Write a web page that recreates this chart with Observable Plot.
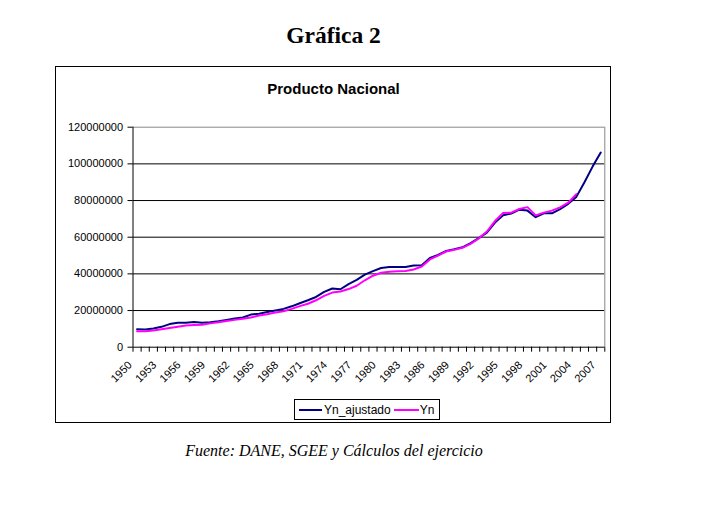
<!DOCTYPE html>
<html>
<head>
<meta charset="utf-8">
<script src="https://cdn.jsdelivr.net/npm/d3@7"></script>
<script src="https://cdn.jsdelivr.net/npm/@observablehq/plot@0.6"></script>
<style>
  body { margin: 0; background: #fff; }
  #page { position: relative; width: 702px; height: 516px; background: #fff; overflow: hidden; }
  #title { position: absolute; left: 0; width: 667px; top: 22px; text-align: center;
           font: bold 23.5px "Liberation Serif", "Times New Roman", serif; color: #000; }
  #box { position: absolute; left: 55px; top: 66px; width: 554px; height: 355px; border: 1px solid #000; background: #fff; }
  #ptitle { position: absolute; left: 0; width: 555px; top: 13px; text-align: center;
            font: bold 15px "Liberation Sans", Arial, sans-serif; color: #000; }
  #chart { position: absolute; left: 0; top: 50px; }
  #legend { position: absolute; left: 238px; top: 332px; width: 144px; height: 19px; border: 1px solid #000;
            display: flex; align-items: center; font: 12px "Liberation Sans", Arial, sans-serif; color: #000; }
  .sw { display: inline-block; height: 2px; }
  #source { position: absolute; left: 0; width: 668px; top: 442px; text-align: center;
            font: italic 16px "Liberation Serif", "Times New Roman", serif; color: #000; }
</style>
</head>
<body>
<div id="page">
  <div id="title">Gráfica 2</div>
  <div id="box">
    <div id="ptitle">Producto Nacional</div>
    <div id="chart"></div>
    <div id="legend"></div>
  </div>
  <div id="source">Fuente: DANE, SGEE y Cálculos del ejercicio</div>
</div>
<script>
const years = [1950,1951,1952,1953,1954,1955,1956,1957,1958,1959,
               1960,1961,1962,1963,1964,1965,1966,1967,1968,1969,
               1970,1971,1972,1973,1974,1975,1976,1977,1978,1979,
               1980,1981,1982,1983,1984,1985,1986,1987,1988,1989,
               1990,1991,1992,1993,1994,1995,1996,1997,1998,1999,
               2000,2001,2002,2003,2004,2005,2006,2007];

const ynAjustado = [9.8e6,9.7e6,10.2e6,11.1e6,12.6e6,13.3e6,13.3e6,13.8e6,13.4e6,13.6e6,
                    14.1e6,14.8e6,15.6e6,16.2e6,17.8e6,18.3e6,19.2e6,20.0e6,20.9e6,22.3e6,
                    24.0e6,25.6e6,27.4e6,30.2e6,32.0e6,31.6e6,34.4e6,36.7e6,39.6e6,41.5e6,
                    43.2e6,43.7e6,43.7e6,43.8e6,44.6e6,44.7e6,48.7e6,50.3e6,52.5e6,53.4e6,
                    54.5e6,56.8e6,59.5e6,62.5e6,68.0e6,72.0e6,72.9e6,75.0e6,74.5e6,70.9e6,
                    73.0e6,73.0e6,75.3e6,78.2e6,82.0e6,90.0e6,98.5e6,106.2e6];

const yn = [8.7e6,8.7e6,9.1e6,9.8e6,10.5e6,11.2e6,11.8e6,12.1e6,12.2e6,13.0e6,
            13.6e6,14.3e6,14.9e6,15.5e6,16.2e6,17.3e6,18.0e6,18.9e6,19.6e6,20.9e6,
            22.4e6,23.7e6,25.6e6,28.0e6,29.8e6,30.4e6,31.7e6,33.5e6,36.5e6,39.0e6,
            40.6e6,41.2e6,41.4e6,41.6e6,42.4e6,44.0e6,47.9e6,50.0e6,52.2e6,53.1e6,
            54.2e6,56.4e6,59.3e6,63.1e6,68.8e6,73.2e6,73.4e6,75.4e6,76.4e6,71.9e6,
            73.4e6,74.5e6,76.3e6,78.8e6,83.5e6];

const labelYears = [1950,1953,1956,1959,1962,1965,1968,1971,1974,1977,
                    1980,1983,1986,1989,1992,1995,1998,2001,2004,2007];
const yTicks = [0,20000000,40000000,60000000,80000000,100000000,120000000];
const gridTicks = [20000000,40000000,60000000,80000000,100000000];

const seriesNames = ["Yn_ajustado", "Yn"];
const seriesColors = ["#000080", "#FF00FF"];

const adjTable = years.map((y, i) => ({year: y, v: ynAjustado[i]}));
const ynTable = yn.map((v, i) => ({year: years[i], v}));

const xMin = years[0] - 0.5;
const xMax = years[years.length - 1] + 0.5;
const boundaries = years.map(y => y - 0.5).concat([xMax]);

const font = '"Liberation Sans", Arial, sans-serif';

const chart = Plot.plot({
  width: 554,
  height: 290,
  marginLeft: 76.5,
  marginRight: 5.7,
  marginTop: 9.7,
  marginBottom: 60.3,
  style: {fontFamily: font, fontSize: "11px", color: "#000", background: "#fff", overflow: "visible"},
  x: {type: "linear", domain: [xMin, xMax]},
  y: {domain: [0, 120000000]},
  marks: [
    Plot.gridY({ticks: gridTicks, stroke: "#000", strokeOpacity: 1, strokeWidth: 1}),
    Plot.ruleY([120000000], {stroke: "#888", strokeWidth: 1}),
    Plot.ruleX([xMax], {stroke: "#888", strokeWidth: 1}),
    Plot.ruleX([xMin], {stroke: "#000", strokeWidth: 1}),
    Plot.ruleY([0], {stroke: "#000", strokeWidth: 1}),
    Plot.axisY({ticks: yTicks, tickSize: 5, tickPadding: 5, tickFormat: d3.format("d"), label: null, stroke: "#000"}),
    Plot.axisX({ticks: boundaries, tickSize: 5, tickFormat: () => "", label: null, stroke: "#000"}),
    Plot.axisX({ticks: labelYears, tickSize: 0, tickPadding: 16, dx: -7, tickRotate: -45, tickFormat: d => String(d), label: null}),
    Plot.line(adjTable, {x: "year", y: "v", stroke: seriesColors[0], strokeWidth: 2}),
    Plot.line(ynTable, {x: "year", y: "v", stroke: seriesColors[1], strokeWidth: 2})
  ]
});
document.getElementById("chart").appendChild(chart);

const legend = document.getElementById("legend");
const widths = [23, 25];
const gaps = [[4, 2], [3, 1]];
seriesNames.forEach((name, i) => {
  const sw = document.createElement("span");
  sw.className = "sw";
  sw.style.width = widths[i] + "px";
  sw.style.background = seriesColors[i];
  sw.style.marginLeft = gaps[i][0] + "px";
  sw.style.marginRight = gaps[i][1] + "px";
  legend.appendChild(sw);
  const t = document.createElement("span");
  t.textContent = name;
  legend.appendChild(t);
});
</script>
</body>
</html>
